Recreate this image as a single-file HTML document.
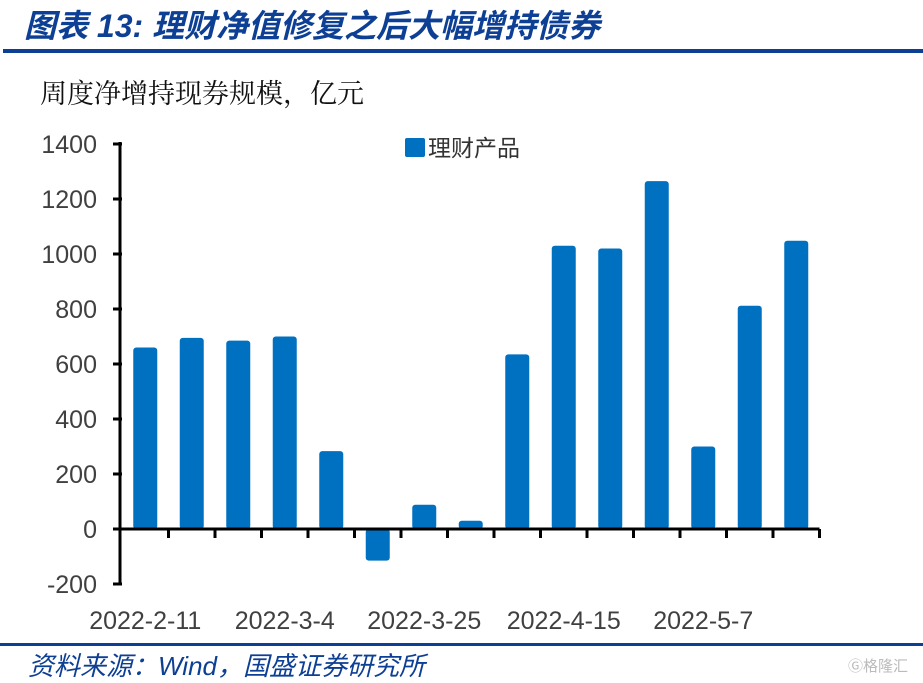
<!DOCTYPE html>
<html><head><meta charset="utf-8"><style>
body{margin:0;width:923px;height:681px;background:#fff;overflow:hidden;position:relative;font-family:"Liberation Sans","Noto Sans CJK SC",sans-serif}
.t{position:absolute;white-space:nowrap}
</style></head><body>
<div class="t" style="left:24px;top:1px;font-size:32px;font-weight:bold;font-style:italic;color:#0d3f94;font-family:'Liberation Sans','Noto Sans CJK SC',sans-serif">图表 13:&nbsp;理财净值修复之后大幅增持债券</div>
<div style="position:absolute;left:3px;top:49px;width:920px;height:4px;background:#0d3f94"></div>
<div class="t" style="left:40px;top:72px;font-size:27px;color:#111;font-family:'Noto Serif CJK SC',serif">周度净增持现券规模，亿元</div>
<svg id="c" width="923" height="681" style="position:absolute;left:0;top:0"></svg>
<div style="position:absolute;left:0;top:643px;width:923px;height:3px;background:#0d3f94"></div>
<div class="t" style="left:28px;top:646px;font-size:26px;font-style:italic;color:#0d3f94">资料来源：Wind，国盛证券研究所</div>
<div class="t" style="left:848px;top:655px;font-size:15px;color:#bbb">Ⓖ格隆汇</div>
<script>
const categories=["2022-2-11","2022-2-18","2022-2-25","2022-3-4","2022-3-11","2022-3-18","2022-3-25","2022-4-1","2022-4-8","2022-4-15","2022-4-22","2022-4-29","2022-5-7","2022-5-13","2022-5-20"];
const values=[660,695,685,700,283,-115,88,30,635,1030,1020,1265,300,812,1048];
const yTicks=[-200,0,200,400,600,800,1000,1200,1400];
const xLabelIdx=[0,3,6,9,12];
const legendLabel="理财产品";
const NS="http://www.w3.org/2000/svg",svg=document.getElementById('c');
const x0=122,step=46.5,zeroY=529,pxPer=55/200;
const y=v=>zeroY-v*pxPer, xc=i=>x0+step*(i+0.5);
function mk(t,a){const e=document.createElementNS(NS,t);for(const k in a)e.setAttribute(k,a[k]);svg.appendChild(e);return e;}
yTicks.forEach(v=>{
 const l=mk('line',{x1:113,x2:122,y1:y(v),y2:y(v),stroke:'#000','stroke-width':3});
 
 
 const t=mk('text',{x:97,y:y(v)+9,'text-anchor':'end','font-size':25,fill:'#404040','font-family':'Liberation Sans'});
 t.textContent=v;
 
 
});
values.forEach((v,i)=>{
 const top=Math.min(y(v),zeroY),h=Math.abs(y(v)-zeroY);
 const r=mk('rect',{x:xc(i)-12,y:top,width:24,height:Math.max(h,1),rx:3,fill:'#0070c0'});
 
 
});
const ax=mk('line',{x1:120,x2:120,y1:142,y2:585,stroke:'#000','stroke-width':3});


const xa=mk('line',{x1:113,x2:x0+step*categories.length,y1:zeroY,y2:zeroY,stroke:'#000','stroke-width':3});


for(let i=1;i<=categories.length;i++){
 const l=mk('line',{x1:x0+step*i,x2:x0+step*i,y1:zeroY,y2:zeroY+9,stroke:'#000','stroke-width':3});
 
 
}
xLabelIdx.forEach(i=>{
 const t=mk('text',{x:xc(i),y:629,'text-anchor':'middle','font-size':25,fill:'#404040','font-family':'Liberation Sans'});
 t.textContent=categories[i];
 
 
});
const lg=mk('rect',{x:405,y:138,width:20,height:19,rx:2,fill:'#0070c0'});


const lt=mk('text',{x:428,y:156,'font-size':23,fill:'#333','font-family':'Noto Sans CJK SC'});
lt.textContent=legendLabel;


</script>
</body></html>
